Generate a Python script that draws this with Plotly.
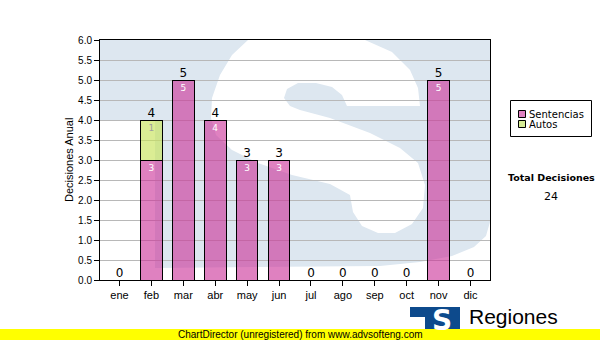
import plotly.graph_objects as go

months = ["ene", "feb", "mar", "abr", "may", "jun", "jul", "ago", "sep", "oct", "nov", "dic"]
sentencias = [0, 3, 5, 4, 3, 3, 0, 0, 0, 0, 5, 0]
autos = [0, 1, 0, 0, 0, 0, 0, 0, 0, 0, 0, 0]
series_names = ["Sentencias", "Autos"]
totals = [s + a for s, a in zip(sentencias, autos)]
total_all = sum(totals)

W, H = 600, 340
L, R, T, B = 100, 490, 40, 280

PINK = "rgba(204,51,153,0.62)"
GREEN = "rgba(200,228,90,0.65)"
PINK_SOLID = "rgb(224,130,194)"
GREEN_SOLID = "rgb(214,236,150)"


def px(x):
    return (x - L) / (R - L)


def py(y):
    return (B - y) / (B - T)


def path(points):
    return "M " + " L ".join(f"{px(x):.4f},{py(y):.4f}" for x, y in points) + " Z"


blue_pts = [(100, 40), (490, 40), (490, 222), (486, 236), (474, 247), (452, 256),
            (420, 262), (380, 266), (155, 268), (155, 120), (100, 120)]
white_s = [(248, 40), (365, 40), (392, 52), (410, 70), (418, 88), (420, 106), (347, 106),
           (342, 95), (332, 87), (316, 83), (298, 83), (287, 89), (284, 98), (290, 106),
           (300, 110), (330, 118), (370, 133), (400, 148), (418, 163), (425, 185),
           (423, 208), (412, 224), (395, 233), (378, 233), (362, 226), (353, 212),
           (350, 195), (330, 184), (292, 175), (258, 163), (232, 150), (216, 135),
           (211, 118), (212, 98), (220, 75), (232, 55)]

fig = go.Figure()
fig.add_trace(go.Bar(
    x=months, y=sentencias, name=series_names[0],
    marker=dict(color=PINK, line=dict(color="black", width=1)),
    text=[str(v) if v else "" for v in sentencias], textposition="inside",
    insidetextanchor="end", textangle=0,
    insidetextfont=dict(color="white", size=9, family="DejaVu Sans"),
    width=0.68, hoverinfo="skip", showlegend=False,
))
fig.add_trace(go.Bar(
    x=months, y=autos, name=series_names[1],
    marker=dict(color=GREEN, line=dict(color="black", width=1)),
    text=[str(v) if v else "" for v in autos], textposition="inside",
    insidetextanchor="end", textangle=0,
    insidetextfont=dict(color="#a0a0a0", size=9, family="DejaVu Sans"),
    width=0.68, hoverinfo="skip", showlegend=False,
))
fig.add_trace(go.Scatter(
    x=months, y=totals, mode="text", text=[str(v) for v in totals],
    textposition="top center", textfont=dict(size=12, color="black", family="DejaVu Sans"),
    showlegend=False, cliponaxis=False, hoverinfo="skip",
))

shapes = [
    dict(type="path", path=path(blue_pts), xref="paper", yref="paper",
         fillcolor="rgb(221,231,240)", line=dict(width=0), layer="below"),
    dict(type="path", path=path(white_s), xref="paper", yref="paper",
         fillcolor="white", line=dict(width=0), layer="below"),
    # legend box
    dict(type="rect", xref="paper", yref="paper", x0=px(510.5), x1=px(591.5), y0=py(136.5), y1=py(100.5),
         fillcolor="white", line=dict(color="black", width=1), layer="above"),
    dict(type="rect", xref="paper", yref="paper", x0=px(518.5), x1=px(525.5), y0=py(117.5), y1=py(110.5),
         fillcolor=PINK_SOLID, line=dict(color="black", width=1), layer="above"),
    dict(type="rect", xref="paper", yref="paper", x0=px(518.5), x1=px(525.5), y0=py(127.5), y1=py(120.5),
         fillcolor=GREEN_SOLID, line=dict(color="black", width=1), layer="above"),
    # yellow band
    dict(type="rect", xref="paper", yref="paper", x0=px(0), x1=px(600), y0=py(340), y1=py(329),
         fillcolor="#ffff00", line=dict(width=0), layer="above"),
    # logo
    dict(type="rect", xref="paper", yref="paper", x0=px(410), x1=px(460), y0=py(329), y1=py(307),
         fillcolor="#0d4a8c", line=dict(width=0), layer="above"),
    dict(type="rect", xref="paper", yref="paper", x0=px(410), x1=px(425), y0=py(329), y1=py(317),
         fillcolor="white", line=dict(width=0), layer="above"),
]

annotations = [
    dict(text=series_names[0], x=px(527), y=py(114), xref="paper", yref="paper", showarrow=False,
         xanchor="left", yanchor="middle", font=dict(size=10, color="black", family="DejaVu Sans")),
    dict(text=series_names[1], x=px(527), y=py(124.5), xref="paper", yref="paper", showarrow=False,
         xanchor="left", yanchor="middle", font=dict(size=10, color="black", family="DejaVu Sans")),
    dict(text="Decisiones Anual", x=px(69), y=py(160), xref="paper", yref="paper", showarrow=False,
         textangle=-90, xanchor="center", yanchor="middle",
         font=dict(size=11, color="black", family="Liberation Sans")),
    dict(text="ChartDirector (unregistered) from www.advsofteng.com", x=px(300), y=py(334.5),
         xref="paper", yref="paper", showarrow=False, xanchor="center", yanchor="middle",
         font=dict(size=10, color="black", family="Liberation Sans")),
    dict(text="<b>S</b>", x=px(442), y=py(320), xref="paper", yref="paper", showarrow=False,
         xanchor="center", yanchor="middle", font=dict(size=28, color="white", family="DejaVu Sans")),
    dict(text="Regiones", x=px(467), y=py(316), xref="paper", yref="paper", showarrow=False,
         xanchor="left", yanchor="middle", font=dict(size=21, color="black", family="Liberation Sans")),
    dict(text="<b>Total Decisiones</b>", x=px(551), y=py(177), xref="paper", yref="paper",
         showarrow=False, xanchor="center", yanchor="middle",
         font=dict(size=9.5, color="black", family="DejaVu Sans")),
    dict(text=str(total_all), x=px(551), y=py(196), xref="paper", yref="paper",
         showarrow=False, xanchor="center", yanchor="middle",
         font=dict(size=11, color="black", family="DejaVu Sans")),
]

fig.update_layout(
    width=W, height=H, margin=dict(l=L, r=W - R, t=T, b=H - B, autoexpand=False),
    paper_bgcolor="white", plot_bgcolor="rgba(0,0,0,0)",
    barmode="stack", bargap=0.32, showlegend=False,
    font=dict(family="Liberation Sans", size=11, color="black"),
    shapes=shapes, annotations=annotations,
    uniformtext=dict(mode=False),
)
fig.update_xaxes(type="category", showline=True, linecolor="black", linewidth=1, mirror=True,
                 ticks="outside", ticklen=5, tickcolor="black", showgrid=False,
                 tickfont=dict(size=11, family="Liberation Sans", color="black"))
fig.update_yaxes(range=[0, 6], dtick=0.5, tickformat=".1f", showline=True, linecolor="black",
                 linewidth=1, mirror=True, ticks="outside", ticklen=5, tickcolor="black",
                 showgrid=True, gridcolor="#b8b8b8", gridwidth=1, zeroline=False,
                 tickfont=dict(size=10, family="Liberation Sans", color="black"))

fig.write_html("out.html")
